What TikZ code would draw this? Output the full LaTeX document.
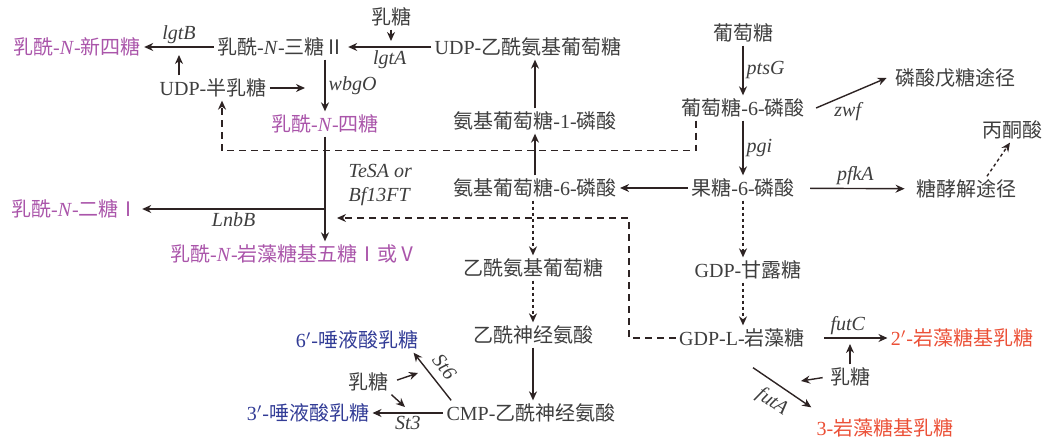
\documentclass[tikz,border=0pt]{standalone}
\usepackage{fontspec}
\setmainfont{Noto Sans CJK SC}
\newfontfamily\tnr{Liberation Serif}
\newcommand\lat[1]{{\tnr #1}}
\usetikzlibrary{arrows.meta,calc}
\definecolor{txtgray}{RGB}{62,62,62}
\definecolor{arrowc}{RGB}{45,35,35}
\definecolor{lnpurple}{RGB}{170,85,170}
\definecolor{slblue}{RGB}{50,60,150}
\definecolor{flred}{RGB}{235,80,55}

\tikzset{
  lbl/.style={text=txtgray, inner sep=1.5pt, font=\fontsize{10}{12}\selectfont},
  enz/.style={text=txtgray, inner sep=1.5pt, font=\tnr\itshape\fontsize{10}{12}\selectfont},
  rxn/.style={draw=arrowc, line width=0.7pt, -{Stealth[length=4.5pt,width=4pt]}},
  multi/.style={rxn, dash pattern=on 1.6pt off 1.4pt},
  bypass/.style={rxn, dash pattern=on 3.5pt off 2.5pt},
}

\begin{document}
\begin{tikzpicture}[x=0.5pt,y=-0.5pt]
  \useasboundingbox (0,0) rectangle (1046,444);

  % metabolites
  \node[lbl, text=lnpurple] (lnnt) at (77,47) {乳酰\lat{-\textit{N}-}新四糖};
  \node[lbl] (lnt2) at (281,47) {乳酰\lat{-\textit{N}-}三糖Ⅱ};
  \node[lbl] (lac1) at (391,17) {乳糖};
  \node[lbl] (udpglcnac) at (528,47) {\lat{UDP-}乙酰氨基葡萄糖};
  \node[lbl] (udpgal) at (213,88) {\lat{UDP-}半乳糖};
  \node[lbl, text=lnpurple] (lnt) at (325,124) {乳酰\lat{-\textit{N}-}四糖};
  \node[lbl] (glcn1p) at (535,121) {氨基葡萄糖\lat{-1-}磷酸};
  \node[lbl] (glc) at (743,33) {葡萄糖};
  \node[lbl] (g6p) at (743,108) {葡萄糖\lat{-6-}磷酸};
  \node[lbl] (ppp) at (955,78) {磷酸戊糖途径};
  \node[lbl] (pyr) at (1012,130) {丙酮酸};
  \node[lbl] (f6p) at (743,188) {果糖\lat{-6-}磷酸};
  \node[lbl] (glyc) at (966,189) {糖酵解途径};
  \node[lbl] (glcn6p) at (535,188) {氨基葡萄糖\lat{-6-}磷酸};
  \node[lbl, text=lnpurple] (lnb) at (75,209) {乳酰\lat{-\textit{N}-}二糖Ⅰ};
  \node[lbl, text=lnpurple] (lnfp) at (294,254) {乳酰\lat{-\textit{N}-}岩藻糖基五糖Ⅰ或Ⅴ};
  \node[lbl] (glcnac) at (533,268) {乙酰氨基葡萄糖};
  \node[lbl] (gdpman) at (748,270) {\lat{GDP-}甘露糖};
  \node[lbl] (neu5ac) at (533,335) {乙酰神经氨酸};
  \node[lbl] (gdpfuc) at (742,338) {\lat{GDP-L-}岩藻糖};
  \node[lbl, text=flred] (fl2) at (962,338) {\lat{2$'$-}岩藻糖基乳糖};
  \node[lbl, text=slblue] (sl6) at (357,340) {\lat{6$'$-}唾液酸乳糖};
  \node[lbl] (lac2) at (368,382) {乳糖};
  \node[lbl] (lac3) at (850,377) {乳糖};
  \node[lbl] (cmp) at (531,413) {\lat{CMP-}乙酰神经氨酸};
  \node[lbl, text=slblue] (sl3) at (308,413) {\lat{3$'$-}唾液酸乳糖};
  \node[lbl, text=flred] (fl3) at (885,428) {\lat{3-}岩藻糖基乳糖};

  \coordinate (jT) at (325,218);
  \coordinate (t6) at (418,373);
  \coordinate (t3) at (405,407);
  \coordinate (tA) at (801,381);

  % lacto-N- branch
  \draw[rxn] (lnt2) -- (lnnt) node[enz, midway, above] {lgtB} coordinate[midway] (jB);
  \draw[rxn] (udpgal.north -| jB) -- ([yshift=-4pt]jB);
  \draw[rxn] (udpglcnac) -- (lnt2) node[enz, midway, below] {lgtA} coordinate[midway] (jA);
  \draw[rxn] (lac1) -- ([yshift=3pt]lac1 |- jA);
  \draw[rxn] (lnt2.south -| lnt) -- (lnt) node[enz, midway, right] {wbgO} coordinate[midway] (jO);
  \draw[rxn, shorten >=10pt] (udpgal) -- (udpgal -| jO);
  \draw[rxn] (lnt) -- (lnt |- lnfp.north)
    node[enz, pos=0.46, right=10pt, align=left] {TeSA or\\Bf13FT};
  \coordinate (jL) at (lnt |- lnb);
  \draw[rxn] (jL) -- (lnb) node[enz, midway, below] {LnbB};

  % glucose
  \draw[rxn] (glc) -- (g6p) node[enz, midway, right] {ptsG};
  \draw[rxn] ($(g6p.east)+(8,0)$) -- ($(ppp.west)+(-5,0)$) node[enz, pos=0.45, below=2pt] {zwf};
  \draw[rxn] (g6p) -- (f6p) node[enz, midway, right] {pgi};
  \draw[rxn, shorten <=6pt, shorten >=4pt] (f6p) -- (glyc) node[enz, midway, above] {pfkA};
  \draw[multi] ($(glyc.north)+(21,0)$) -- ($(pyr.south)+(-2,0)$);
  \draw[rxn] (f6p) -- (glcn6p);
  \draw[rxn] (glcn6p) -- (glcn1p);
  \draw[rxn] (glcn1p) -- (glcn1p |- udpglcnac.south);
  \draw[bypass] ($(g6p.south west)+(18,0)$) -- ++(0,30) -| ($(udpgal.south)+(9,0)$);

  % sialyl
  \draw[multi] (glcnac |- glcn6p.south) -- (glcnac);
  \draw[multi] (glcnac) -- (neu5ac);
  \draw[rxn] (neu5ac) -- (neu5ac |- cmp.north);
  \draw[rxn] (cmp) -- (sl3) node[enz, midway, below] {St3};
  \draw[rxn] ($(cmp.north west)+(8,0)$) -- ($(sl6.south east)+(-8,0)$) node[enz, midway, sloped, above=2.5pt] {St6};
  \draw[rxn, shorten <=3pt] (lac2.east) -- (t6);
  \draw[rxn] (lac2.south east) -- (t3);

  % fucosyl
  \draw[multi] (f6p) -- (f6p |- gdpman.north);
  \draw[multi] (gdpman.south -| f6p) -- (f6p |- gdpfuc.north);
  \draw[bypass, shorten >=6pt] (gdpfuc.west) -- ++(-47,0) |- (jT);
  \draw[rxn, shorten <=8pt] (gdpfuc) -- (fl2) node[enz, midway, above] {futC} coordinate[midway] (jC);
  \draw[rxn] (lac3) -- ([yshift=-3pt]lac3 |- jC);
  \draw[rxn] ($(gdpfuc.south)+(11,17)$) -- ($(fl3.north west)+(-2,-8)$) node[enz, midway, sloped, below=2.5pt] {futA};
  \draw[rxn, shorten <=2pt] (lac3.west) -- (tA);

\end{tikzpicture}
\end{document}
